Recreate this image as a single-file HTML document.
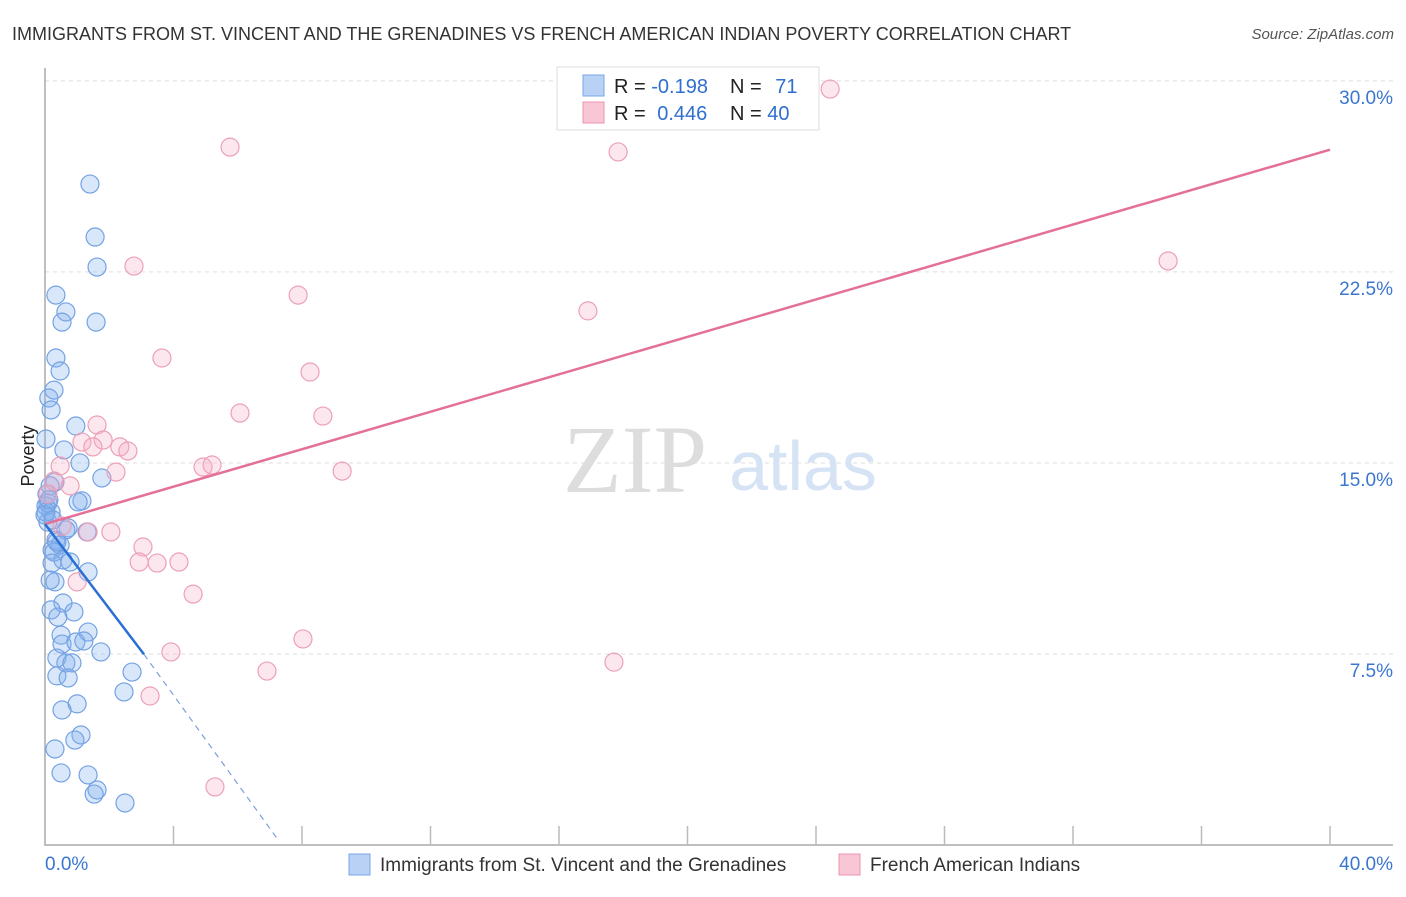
<!DOCTYPE html>
<html><head><meta charset="utf-8"><style>
body{margin:0;background:#fff;font-family:"Liberation Sans",sans-serif}
svg text{font-family:"Liberation Sans",sans-serif}
</style></head><body>
<svg id="c" width="1406" height="892">
<text x="12" y="40" font-size="18" fill="#333">IMMIGRANTS FROM ST. VINCENT AND THE GRENADINES VS FRENCH AMERICAN INDIAN POVERTY CORRELATION CHART</text>
<text x="1394" y="39" font-size="15" fill="#555" font-style="italic" text-anchor="end">Source: ZipAtlas.com</text>
<text x="0" y="0" font-size="18" fill="#222" transform="translate(34,456) rotate(-90)" text-anchor="middle">Poverty</text>
<g id="grid"></g>
<text x="635" y="492" font-size="96" fill="#ddd" text-anchor="middle" style="font-family:'Liberation Serif',serif">ZIP</text>
<text x="803" y="490" font-size="70" fill="#d5e3f5" text-anchor="middle">atlas</text>
<g id="pts"></g>
<g id="lines"></g>
<g>
<rect x="557" y="67" width="262" height="63" fill="#fff" stroke="#ddd"/>
<rect x="583" y="75" width="21" height="21" fill="#b8d1f5" stroke="#7aa6e6"/>
<rect x="583" y="102" width="21" height="21" fill="#f9c6d5" stroke="#eb94b0"/>
<text x="614" y="93" font-size="20" fill="#222">R = <tspan fill="#2f6fd0">-0.198</tspan></text>
<text x="730" y="93" font-size="20" fill="#222">N = <tspan fill="#2f6fd0" dx="8">71</tspan></text>
<text x="614" y="120" font-size="20" fill="#222">R = <tspan fill="#2f6fd0" dx="6">0.446</tspan></text>
<text x="730" y="120" font-size="20" fill="#222">N = <tspan fill="#2f6fd0">40</tspan></text>
</g>
<g>
<rect x="349" y="854" width="21" height="21" fill="#b8d1f5" stroke="#7aa6e6"/>
<text x="380" y="871" font-size="19" fill="#333">Immigrants from St. Vincent and the Grenadines</text>
<rect x="839" y="854" width="21" height="21" fill="#f9c6d5" stroke="#eb94b0"/>
<text x="870" y="871" font-size="19" fill="#333">French American Indians</text>
</g>
<text x="45" y="870" font-size="19" fill="#3b76d0">0.0%</text>
<text x="1393" y="870" font-size="19" fill="#3b76d0" text-anchor="end">40.0%</text>
</svg>
<script>
const blueX=[1.4,1.56,1.62,0.34,0.65,0.53,1.59,0.34,0.47,0.28,0.12,0.19,0.96,0.03,0.59,1.09,1.77,0.31,0.16,0.06,1.15,1.03,0.09,0.03,0.19,0.09,0.72,0.65,1.31,0.34,0.47,0.22,0.28,0.56,0.22,1.34,0.31,0.56,0.19,0.9,0.4,1.34,0.5,0.53,0.96,1.21,1.74,0.37,0.65,0.84,2.71,0.37,0.72,2.46,1.0,0.53,1.12,0.93,0.31,0.5,1.34,1.62,1.53,2.49,0.03,0.12,0.37,0.78,0.16,0,0.25];
const blueY=[25.95,23.87,22.69,21.59,20.93,20.53,20.53,19.12,18.61,17.86,17.55,17.08,16.45,15.94,15.51,15.0,14.41,14.25,14.1,13.78,13.51,13.47,13.43,13.31,13.07,12.68,12.45,12.37,12.29,11.97,11.78,11.58,11.5,11.19,11.07,10.72,10.33,9.5,9.23,9.15,8.95,8.36,8.24,7.89,7.97,8.01,7.58,7.34,7.15,7.15,6.79,6.64,6.56,6.01,5.54,5.3,4.32,4.12,3.77,2.83,2.75,2.16,2.0,1.65,13.07,13.55,11.9,11.11,10.4,12.96,12.76];
const pinkX=[24.44,5.76,17.84,2.77,34.96,7.88,16.9,3.64,8.25,6.07,8.65,1.62,1.15,1.81,1.49,2.33,2.58,0.47,2.21,4.92,5.2,9.25,0.28,0.78,0.09,0.53,1.34,2.05,3.05,2.93,3.49,4.17,1.0,4.61,8.03,3.92,17.71,6.91,3.27,5.29];
const pinkY=[29.68,27.4,27.21,22.73,22.93,21.59,20.97,19.12,18.57,16.96,16.84,16.49,15.82,15.9,15.63,15.63,15.47,14.88,14.64,14.84,14.92,14.68,14.29,14.1,13.78,12.52,12.29,12.29,11.7,11.11,11.07,11.11,10.33,9.85,8.09,7.58,7.18,6.83,5.85,2.28];
const yTicks=[7.5,15,22.5,30];
const yTickLabels=["7.5%","15.0%","22.5%","30.0%"];
const blueTrend=[12.6,-1.66]; const pinkTrend=[12.6,0.3675];
const blueDashEnd=[7.2,0.3];
const NS="http://www.w3.org/2000/svg";
const sx=v=>45+v*32.125, sy=v=>845-v*25.47;
function mk(t,a,p){const e=document.createElementNS(NS,t);for(const k in a)e.setAttribute(k,a[k]);p.appendChild(e);return e;}
const g=document.getElementById('grid');
yTicks.forEach((t,i)=>{
 const l=mk('line',{x1:45,x2:1393,y1:sy(t),y2:sy(t),stroke:'#ddd','stroke-dasharray':'4,4'},g);
 
 
 const tx=mk('text',{x:1393,y:sy(t)+23,'font-size':19,fill:'#3b76d0','text-anchor':'end'},g);
 tx.textContent=yTickLabels[i];
 
 
});
const ax=mk('path',{d:'M45,68 V845 H1393',fill:'none',stroke:'#aaa','stroke-width':1.5},g);


for(let i=1;i<=10;i++){const t=mk('line',{x1:sx(i*4),x2:sx(i*4),y1:826,y2:845,stroke:'#bbb','stroke-width':1.5},g);
 
 }
const P=document.getElementById('pts');
blueX.forEach((x,i)=>{const c=mk('circle',{cx:sx(x),cy:sy(blueY[i]),r:9,fill:'rgba(130,175,238,0.3)',stroke:'#74a2e2','stroke-width':1.2},P);
 
 });
pinkX.forEach((x,i)=>{const c=mk('circle',{cx:sx(x),cy:sy(pinkY[i]),r:9,fill:'rgba(245,175,200,0.3)',stroke:'#eca0b8','stroke-width':1.2},P);
 
 });
const L=document.getElementById('lines');
let l1=mk('line',{x1:sx(0),y1:sy(pinkTrend[0]),x2:sx(40),y2:sy(pinkTrend[0]+40*pinkTrend[1]),stroke:'#e4709a','stroke-width':2.5},L);


let l2=mk('line',{x1:sx(0),y1:sy(blueTrend[0]),x2:sx(3.08),y2:sy(blueTrend[0]+3.08*blueTrend[1]),stroke:'#2a6fd6','stroke-width':2.5},L);


let l3=mk('line',{x1:sx(3.08),y1:sy(blueTrend[0]+3.08*blueTrend[1]),x2:sx(blueDashEnd[0]),y2:sy(blueDashEnd[1]),stroke:'#7aa0dd','stroke-width':1.2,'stroke-dasharray':'6,5'},L);


</script>
</body></html>
